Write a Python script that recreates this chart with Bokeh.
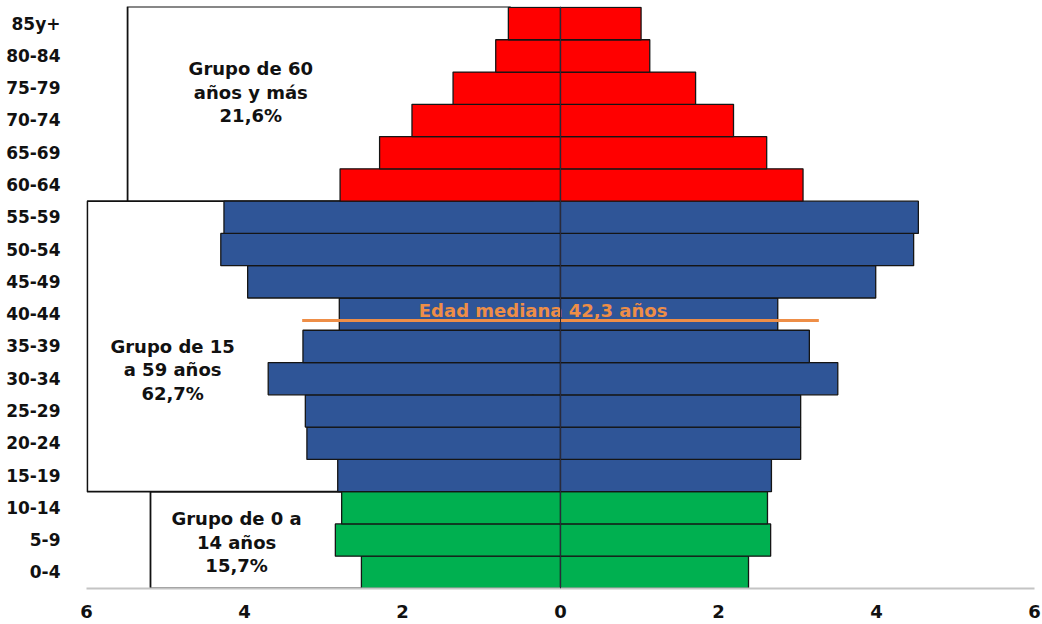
from bokeh.plotting import figure
from bokeh.models import FixedTicker, Span, Range1d, ColumnDataSource
from bokeh.core.properties import value
from bokeh.embed import file_html
from bokeh.resources import INLINE

# ---- data ----
age_groups = ["0-4", "5-9", "10-14", "15-19", "20-24", "25-29", "30-34", "35-39",
              "40-44", "45-49", "50-54", "55-59", "60-64", "65-69", "70-74",
              "75-79", "80-84", "85y+"]
left_values = [2.52, 2.85, 2.77, 2.82, 3.21, 3.23, 3.70, 3.26, 2.80, 3.96,
               4.30, 4.26, 2.79, 2.29, 1.88, 1.36, 0.82, 0.66]
right_values = [2.38, 2.66, 2.62, 2.67, 3.04, 3.04, 3.51, 3.15, 2.75, 3.99,
                4.47, 4.53, 3.07, 2.61, 2.19, 1.71, 1.13, 1.02]
age_band = ["0-14"] * 3 + ["15-59"] * 9 + ["60+"] * 6
band_colors = {"0-14": "#00B050", "15-59": "#2F5597", "60+": "#FF0000"}
x_ticks = [-6, -4, -2, 0, 2, 4, 6]

box_text = ["Grupo de 0 a\n14 años\n15,7%",
            "Grupo de 15\na 59 años\n62,7%",
            "Grupo de 60\naños y más\n21,6%"]
box_left = [-5.19, -5.99, -5.48]
box_right = [-0.37, -0.35, -0.64]
box_bottom = [0, 3, 12]
box_top = [3, 12, 18.03]
box_text_x = [-4.10, -4.91, -3.92]
box_text_y = [1.43, 6.77, 15.37]

median_label = "Edad mediana 42,3 años"
median_line_y = 8.30
median_line_x = [-3.27, 3.27]
median_label_x = -0.22

FONT = "DejaVu Sans"

# ---- figure ----
p = figure(width=1042, height=624, output_backend="svg", toolbar_location=None,
           x_range=Range1d(-6, 6), y_range=Range1d(0, 18.03),
           min_border_left=86, min_border_right=8, min_border_top=6,
           min_border_bottom=36)
p.outline_line_color = None
p.xgrid.visible = False
p.ygrid.visible = False
p.background_fill_color = "white"

# group boxes (behind the bars)
p.quad(left=box_left, right=box_right, bottom=box_bottom, top=box_top,
       fill_color="white", line_color="#111111", line_width=1.8)

y_centers = [i + 0.5 for i in range(len(age_groups))]
colors = [band_colors[b] for b in age_band]
src = ColumnDataSource(dict(y=y_centers, l=[-v for v in left_values],
                            r=right_values, c=colors))
p.hbar(y="y", left="l", right=0, height=1, fill_color="c",
       line_color="#151515", line_width=1.3, source=src)
p.hbar(y="y", left=0, right="r", height=1, fill_color="c",
       line_color="#151515", line_width=1.3, source=src)

p.add_layout(Span(location=0, dimension="height", line_color="#2a2a3a",
                  line_width=1))

# box labels
p.text(x=box_text_x, y=box_text_y, text=box_text, text_align="center",
       text_baseline="middle", text_font=value(FONT), text_font_style="bold",
       text_font_size="18px", text_color="#111111", text_line_height=1.12)

# median line and label
p.line(x=median_line_x, y=[median_line_y, median_line_y], line_color="#EE8E47",
       line_width=3)
p.text(x=[median_label_x], y=[median_line_y], text=[median_label],
       text_align="center", text_baseline="bottom", y_offset=0,
       text_font=value(FONT), text_font_style="bold", text_font_size="18px",
       text_color="#EE8E47")

# axes
p.xaxis.ticker = FixedTicker(ticks=x_ticks)
p.xaxis.major_label_overrides = {t: str(abs(t)) for t in x_ticks}
p.xaxis.axis_line_color = "#C4C4C4"
p.xaxis.axis_line_width = 2
p.xaxis.major_tick_line_color = None
p.xaxis.minor_tick_line_color = None
p.xaxis.major_label_text_font = FONT
p.xaxis.major_label_text_font_style = "bold"
p.xaxis.major_label_text_font_size = "18px"
p.xaxis.major_label_text_color = "#111111"
p.xaxis.major_label_standoff = 10

p.yaxis.ticker = FixedTicker(ticks=y_centers)
p.yaxis.major_label_overrides = {y: lab for y, lab in zip(y_centers, age_groups)}
p.yaxis.axis_line_color = None
p.yaxis.major_tick_line_color = None
p.yaxis.minor_tick_line_color = None
p.yaxis.major_label_text_font = FONT
p.yaxis.major_label_text_font_style = "bold"
p.yaxis.major_label_text_font_size = "17px"
p.yaxis.major_label_text_color = "#111111"
p.yaxis.major_label_standoff = 20

open("out.html", "w").write(file_html(p, INLINE))
